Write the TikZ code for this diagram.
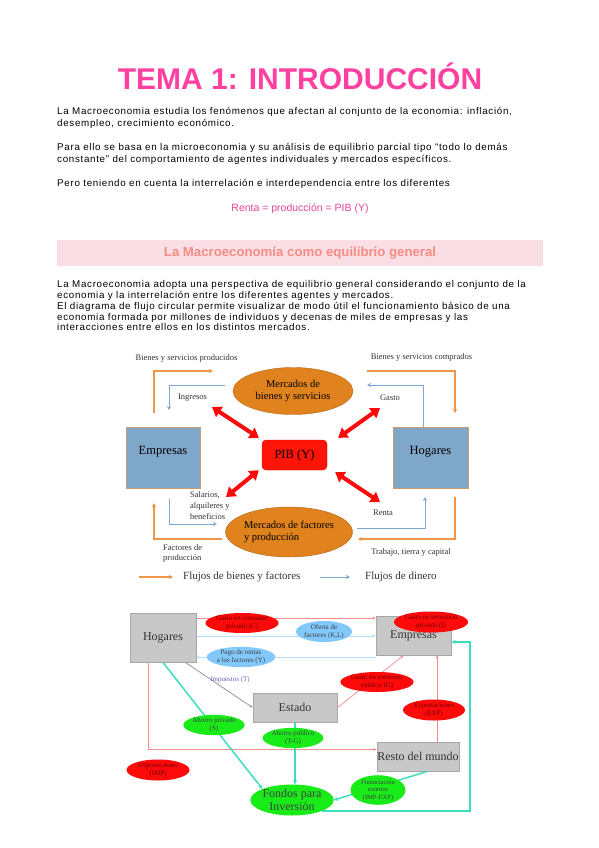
\documentclass[tikz,border=0pt]{standalone}
\usepackage{fontspec}
\setmainfont{Liberation Serif}
\newfontfamily\bodyfont{Liberation Sans}
\newfontfamily\bodyfontls[LetterSpace=7]{Liberation Sans}
\usetikzlibrary{%
	calc,%
	arrows.meta,%
	positioning,%
	shapes.geometric,%
}
\tikzset{
	>=Stealth,
	nodes={align=center},
}
\definecolor{cpink}{RGB}{255, 64, 160}
\definecolor{cformula}{RGB}{228, 70, 150}
\definecolor{cband}{RGB}{250, 222, 230}
\definecolor{csalmon}{RGB}{246, 140, 130}
\definecolor{corange}{RGB}{240, 150, 70}
\definecolor{cblue}{RGB}{125, 168, 208}
\definecolor{cbox}{RGB}{126, 167, 202}
\definecolor{cmarket}{RGB}{224, 130, 30}
\definecolor{cpib}{RGB}{255, 20, 10}
\definecolor{cgray}{RGB}{200, 200, 200}
\definecolor{cred}{RGB}{255, 10, 10}
\definecolor{cdarkred}{RGB}{110, 0, 0}
\definecolor{clblue}{RGB}{130, 200, 250}
\definecolor{cline}{RGB}{246, 140, 140}
\definecolor{cflow}{RGB}{185, 222, 250}
\definecolor{cteal}{RGB}{60, 220, 190}
\definecolor{cgreen}{RGB}{25, 235, 25}

\begin{document}
\begin{tikzpicture}[x=1pt, y=-1pt,%
		body/.style={anchor=north west, align=left, inner sep=0pt, font=\bodyfontls\fontsize{9.8}{12}\selectfont},%
		agent/.style={draw=corange!70!cbox, fill=cbox, rectangle, inner sep=0pt, font=\fontsize{12.5}{14}\selectfont, text depth=14pt},%
		mkt/.style={draw=cmarket!80!black, fill=cmarket, ellipse, inner sep=0pt, font=\fontsize{10.5}{12}\selectfont},%
		flowlbl/.style={inner sep=0pt, font=\fontsize{8.5}{11}\selectfont, text=black!80},%
		oflow/.style={draw=corange, line width=1.2pt, -{Stealth[length=4pt, width=4pt]}},%
		bflow/.style={draw=cblue, line width=1pt, -{Stealth[length=4pt, width=4pt]}},%
		biarrow/.style={draw=cred, line width=4pt, {Triangle[length=9pt, width=12pt]}-{Triangle[length=9pt, width=12pt]}},%
		sector/.style={draw=black!35, fill=cgray, rectangle, line width=1pt, inner sep=0pt, text=black!80, font=\fontsize{12}{13}\selectfont},%
		redoval/.style={ellipse, fill=cred, inner sep=0pt, text=cdarkred, font=\fontsize{7}{8}\selectfont},%
		blueoval/.style={ellipse, fill=clblue, inner sep=0pt, text=black!75, font=\fontsize{7}{8}\selectfont},%
		greenoval/.style={ellipse, fill=cgreen, inner sep=0pt, text=black!75, font=\fontsize{7}{8}\selectfont},%
		redline/.style={draw=cline, line width=0.7pt, -{Stealth[length=3pt, width=3pt]}},%
		blueline/.style={draw=cflow, line width=1pt, -{Stealth[length=3pt, width=3pt]}},%
		tealline/.style={draw=cteal, line width=1.5pt, -{Stealth[length=4pt, width=4pt]}}]
	\useasboundingbox[fill=white] (0,0) rectangle (599,848);

	% texto
	\node[font=\bodyfont\bfseries\fontsize{30}{32}\selectfont, text=cpink] (title) at (300,76) {TEMA 1: INTRODUCCIÓN};
	\node[body] (p1) at (57,107) {La Macroeconomia estudia los fenómenos que afectan al conjunto de la economia: inflación,\\desempleo, crecimiento económico.};
	\node[body] (p2) at (57,143) {Para ello se basa en la microeconomia y su análisis de equilibrio parcial tipo “todo lo demás\\constante” del comportamiento de agentes individuales y mercados específicos.};
	\node[body] (p3) at (57,179) {Pero teniendo en cuenta la interrelación e interdependencia entre los diferentes};
	\node[font=\bodyfont\fontsize{10.5}{12}\selectfont, text=cformula] (formula) at (300,208.5) {Renta = producción = PIB (Y)};

	\node[fill=cband, minimum width=486pt, minimum height=26pt, inner sep=0pt, font=\bodyfont\bfseries\fontsize{13.2}{15}\selectfont, text=csalmon] (band) at (300,253) {La Macroeconomía como equilibrio general};
	\node[body, font=\bodyfontls\fontsize{9.8}{10.9}\selectfont] (p4) at (57,280) {La Macroeconomia adopta una perspectiva de equilibrio general considerando el conjunto de la\\economia y la interrelación entre los diferentes agentes y mercados.\\El diagrama de flujo circular permite visualizar de modo útil el funcionamiento básico de una\\economia formada por millones de individuos y decenas de miles de empresas y las\\interacciones entre ellos en los distintos mercados.};

	% flujo circular
	\node[agent, minimum width=74pt, minimum height=61pt] (emp) at (163,457.5) {Empresas};
	\node[agent, minimum width=75pt, minimum height=61pt] (hog) at (430.5,457.5) {Hogares};
	\node[draw=cpib!80!black, fill=cpib, rectangle, rounded corners=4pt, minimum width=65pt, minimum height=30pt, inner sep=0pt, font=\fontsize{12.5}{14}\selectfont] (pib) at (294.5,455) {PIB (Y)};
	\node[mkt, minimum width=120pt, minimum height=47pt] (mbs) at (293,391) {Mercados de\\bienes y servicios};
	\node[mkt, minimum width=118pt, minimum height=50pt, align=left] (mfp) at (289,532) {Mercados de factores\\y producción};

	\coordinate (tl) at (212,407);
	\coordinate (tr) at (380,408);
	\coordinate (bl) at (226,497);
	\coordinate (br) at (380,502);
	\draw[biarrow] (tl) -- ([shift={(-3,-2)}]pib.north west);
	\draw[biarrow] (tr) -- ([shift={(11,-2)}]pib.north east);
	\draw[biarrow] (bl) -- ([shift={(-3,0)}]pib.south west);
	\draw[biarrow] (br) -- ([shift={(8,2)}]pib.south east);

	\draw[oflow] ([xshift=-9pt]emp.north |- 0,413) |- (213,371);
	\draw[bflow] (225,385) -| ([xshift=6pt]emp.north |- 0,410);
	\draw[oflow] (367,371) -| ([xshift=24.5pt]hog.north |- 0,413);
	\draw[bflow] ([xshift=-7.5pt]hog.north) |- (367,385);
	\draw[bflow] ([xshift=6pt]emp.south |- 0,499) |- (217,524);
	\draw[oflow] (222,539) -| ([xshift=-9pt]emp.south |- 0,503);
	\draw[bflow] (357,528) -| ([xshift=-5.5pt]hog.south |- 0,497);
	\draw[oflow] ([xshift=24.5pt]hog.south |- 0,497) |- (358,539);

	\node[flowlbl] (bsp) at (186.5,358) {Bienes y servicios producidos};
	\node[flowlbl] (bsc) at (421.5,357) {Bienes y servicios comprados};
	\node[flowlbl] (ing) at (192.5,398) {Ingresos};
	\node[flowlbl] (gas) at (390,398) {Gasto};
	\node[flowlbl, anchor=north west, align=left] (sal) at (190,491) {Salarios,\\alquileres y\\beneficios};
	\node[flowlbl] (ren) at (383,513) {Renta};
	\node[flowlbl, anchor=north west, align=left, font=\fontsize{8.5}{10}\selectfont] (fac) at (163,544) {Factores de\\producción};
	\node[flowlbl] (ttc) at (411,552) {Trabajo, tierra y capital};

	\node[anchor=west, inner sep=0pt, font=\fontsize{11}{13}\selectfont, text=black!80] (lg1) at (183,577) {Flujos de bienes y factores};
	\node[anchor=west, inner sep=0pt, font=\fontsize{11}{13}\selectfont, text=black!80] (lg2) at (365,577) {Flujos de dinero};
	\draw[oflow] ([xshift=-44pt]lg1.west) -- ([xshift=-10pt]lg1.west);
	\draw[bflow] ([xshift=-45pt]lg2.west) -- ([xshift=-15pt]lg2.west);

	% sectores
	\node[sector, minimum width=66pt, minimum height=49pt] (hog2) at (163,637.5) {Hogares};
	\node[sector, minimum width=75pt, minimum height=39pt] (emp2) at (413.5,635.5) {Empresas};
	\node[sector, minimum width=84pt, minimum height=29pt] (est) at (295,707.5) {Estado};
	\node[sector, minimum width=82pt, minimum height=29pt] (rdm) at (418,756.5) {Resto del mundo};
	\node[greenoval, minimum width=78pt, minimum height=31pt, font=\fontsize{12}{13}\selectfont] (fondos) at (292,800) {Fondos para\\Inversión};

	\draw[redline] (hog2.east |- 0,618) -- (emp2.west |- 0,618);
	\draw[blueline] (hog2.east |- 0,636) -- (emp2.west |- 0,636);
	\draw[blueline] (emp2.west |- 0,657) -- (hog2.east |- 0,657);
	\draw[draw=black!45, line width=0.7pt, -{Stealth[length=3pt, width=3pt]}] ([xshift=-11pt]hog2.south east) -- (est.west);
	\draw[redline] (est.east) -- ([xshift=-10pt]emp2.south);
	\draw[redline] ([xshift=19pt]rdm.north) -- ([xshift=19pt]rdm.north |- emp2.south);
	\draw[redline] ([xshift=-15pt]hog2.south) |- ([yshift=7pt]rdm.west);
	\draw[tealline] (hog2.south) -- (fondos.north west);
	\draw[tealline] (est.south) -- (est.south |- fondos.north);
	\draw[tealline] ([xshift=9pt]rdm.south) -- (fondos.east);
	\draw[tealline] (fondos.south east) -| (470,642) -- (emp2.east |- 0,642);

	\node[redoval, minimum width=62pt, minimum height=20pt] (gcp) at (242,623) {Gasto en consumo\\privado (C)};
	\node[blueoval, minimum width=54pt, minimum height=21pt] (ofk) at (324,631.5) {Oferta de\\factores (K,L)};
	\node[blueoval, minimum width=63pt, minimum height=19pt] (pr) at (241,657) {Pago de rentas\\a los factores (Y)};
	\node[redoval, minimum width=62pt, minimum height=21pt] (gip) at (431,622) {Gasto en inversión\\privada (I)};
	\node[redoval, minimum width=63pt, minimum height=20pt] (gcpub) at (377,682) {Gasto en consumo\\público (G)};
	\node[redoval, minimum width=62pt, minimum height=21pt] (exp) at (434,710) {Exportaciones\\(EXP)};
	\node[redoval, minimum width=63pt, minimum height=21pt] (imp) at (158,770) {Importaciones\\(IMP)};
	\node[greenoval, minimum width=49pt, minimum height=19pt] (ap) at (214,725) {Ahorro privado\\(S)};
	\node[greenoval, minimum width=57pt, minimum height=18pt] (apub) at (293,738) {Ahorro público\\(T-G)};
	\node[greenoval, minimum width=55pt, minimum height=26pt, font=\fontsize{6.5}{7.5}\selectfont] (fin) at (378,790) {Financiación\\exterior\\(IMP-EXP)};
	\node[inner sep=0pt, text=black!45!blue!60, font=\fontsize{7}{8}\selectfont] (imps) at (230,680) {Impuestos (T)};
\end{tikzpicture}
\end{document}
